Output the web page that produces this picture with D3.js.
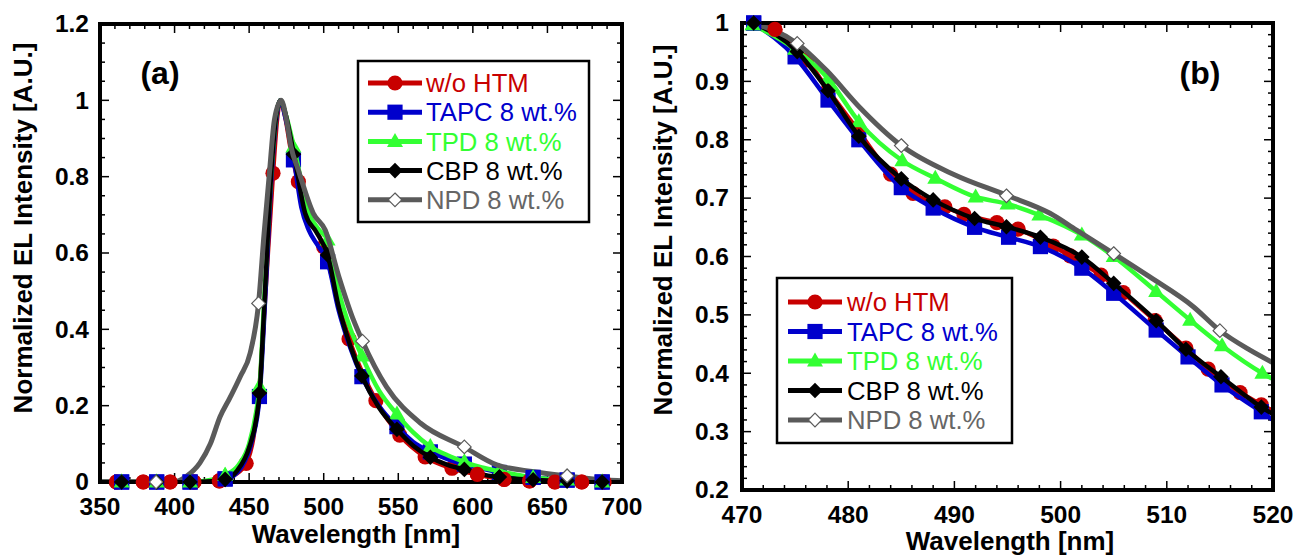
<!DOCTYPE html>
<html><head><meta charset="utf-8">
<script src="https://cdn.jsdelivr.net/npm/d3@7"></script>
<style>html,body{margin:0;padding:0;background:#fff;} svg{display:block;font-family:"Liberation Sans",Arial,Helvetica,sans-serif;}</style>
</head><body><svg id="chart" width="1295" height="555"></svg>
<script>
// ---------- series ----------
const seriesNames = ["w/o HTM", "TAPC 8 wt.%", "TPD 8 wt.%", "CBP 8 wt.%", "NPD 8 wt.%"];
const seriesColors = ["#c80000", "#0000cc", "#33ff33", "#000000", "#5a5a5a"];
const seriesTextColors = ["#c80000", "#0000cc", "#33ff33", "#000000", "#666666"];
const seriesMarkers = ["circle", "square", "triangle", "diamond", "openDiamond"];

// ---------- panel (a): full spectra ----------
const xTicksA = [350, 400, 450, 500, 550, 600, 650, 700];
const yTicksA = [0, 0.2, 0.4, 0.6, 0.8, 1, 1.2];
const yTickLabelsA = ["0", "0.2", "0.4", "0.6", "0.8", "1", "1.2"];

const redLineA = [[350,0],[361,0],[379,0],[397,0],[413,0],[430,0.004],[440,0.018],[448,0.049],[453,0.12],[457,0.25],[461,0.5],[466,0.809],[469,0.96],[471,1.0],[474,0.96],[478,0.87],[483,0.787],[490,0.70],[495,0.66],[500,0.616],[508,0.5],[517,0.375],[526,0.285],[535,0.213],[551,0.123],[568,0.066],[586,0.036],[603,0.02],[621,0.007],[638,0.003],[655,0],[673,0],[690,0]];
const redMarkA = [[361,0],[379,0],[397,0],[413,0],[430,0.003],[448,0.049],[466,0.809],[483,0.787],[500,0.616],[517,0.375],[535,0.213],[551,0.123],[568,0.066],[586,0.036],[603,0.02],[621,0.007],[638,0.003],[655,0],[673,0],[688,0]];

const blueLineA = [[350,0],[364.5,0],[388,0],[410,0],[425,0.002],[434,0.006],[445,0.04],[452,0.11],[457,0.224],[461,0.5],[465,0.8],[468.5,0.96],[471,1],[474,0.96],[480,0.844],[485,0.72],[490,0.66],[496,0.62],[502.6,0.577],[510,0.45],[518,0.35],[525.6,0.276],[537,0.2],[549,0.145],[560,0.105],[571.5,0.079],[583,0.06],[594,0.047],[606,0.035],[618,0.025],[640,0.012],[663,0.005],[687,0],[700,0]];
const blueMarkA = [[364.5,0],[388,0],[410.4,0],[433.9,0.008],[456.9,0.224],[479.7,0.844],[502.6,0.577],[525.6,0.276],[549.1,0.145],[571.5,0.079],[594.3,0.047],[617.8,0.025],[640.4,0.012],[663.2,0.005],[686.7,0]];

const greenLineA = [[350,0],[364.5,0],[388,0],[410,0],[420,0.003],[434,0.018],[443,0.045],[450,0.1],[455,0.19],[457,0.25],[460,0.47],[465,0.82],[468.5,0.97],[471,1],[474,0.97],[480,0.878],[490,0.704],[497,0.66],[502.6,0.634],[510,0.5],[518,0.4],[525.6,0.33],[537,0.24],[549,0.178],[560,0.13],[571.5,0.093],[583,0.07],[594,0.053],[606,0.038],[618,0.028],[640,0.012],[663,0.005],[687,0],[700,0]];
const greenMarkA = [[364.5,0],[388,0],[410.4,0],[433.9,0.018],[456.9,0.25],[479.7,0.878],[502.6,0.634],[525.6,0.33],[549.1,0.178],[571.5,0.093],[594.3,0.053],[617.8,0.028],[640.4,0.012],[663.2,0.005],[686.7,0]];

const blackLineA = [[350,0],[364.5,0],[388,0],[410,0],[425,0.002],[434,0.007],[442,0.03],[450,0.09],[455,0.17],[457,0.233],[460,0.45],[465,0.82],[468.5,0.97],[471,1],[474,0.97],[480,0.859],[487.6,0.704],[495,0.655],[502.6,0.595],[510,0.46],[518,0.355],[525.6,0.278],[537,0.195],[549,0.138],[560,0.095],[571.5,0.065],[583,0.045],[594,0.033],[606,0.02],[618,0.013],[640,0.006],[663,0.003],[687,0],[700,0]];
const blackMarkA = [[364.5,0],[388,0],[410.4,0],[433.9,0.007],[456.9,0.233],[479.7,0.859],[502.6,0.595],[525.6,0.278],[549.1,0.138],[571.5,0.065],[594.3,0.033],[617.8,0.013],[640.4,0.006],[663.2,0.003],[686.7,0]];

const grayLineA = [[350,0],[388,0],[399,0],[408,0.015],[417,0.05],[424,0.1],[430.5,0.171],[437,0.22],[444,0.276],[450.7,0.338],[456.3,0.468],[460,0.65],[463.6,0.81],[467,0.95],[471.5,1],[475,0.95],[478,0.88],[483,0.817],[493,0.704],[501,0.66],[510,0.54],[520,0.424],[526,0.369],[542,0.25],[565,0.154],[594,0.092],[616,0.045],[641,0.027],[663,0.016],[690,0.005],[700,0.003]];
const grayMarkA = [[387.6,0],[456.3,0.468],[526,0.369],[594.3,0.092],[663.2,0.016]];

// ---------- panel (b): zoom 470-520 nm ----------
const xTicksB = [470, 480, 490, 500, 510, 520];
const yTicksB = [0.2, 0.3, 0.4, 0.5, 0.6, 0.7, 0.8, 0.9, 1];
const yTickLabelsB = ["0.2", "0.3", "0.4", "0.5", "0.6", "0.7", "0.8", "0.9", "1"];

const redMarkB = [[473.1,0.989],[476.1,0.937],[478.1,0.885],[481.0,0.814],[484.0,0.741],[486.1,0.708],[489.1,0.685],[490.9,0.672],[494.0,0.658],[496.0,0.647],[499.3,0.618],[500.9,0.601],[503.8,0.568],[505.9,0.538],[508.9,0.49],[511.8,0.443],[513.9,0.407],[516.9,0.367],[518.9,0.346]];
const redLineB = [[471,1.0]].concat(redMarkB, [[520,0.335]]);

const blueMarkB = [[471.1,1.0],[475.0,0.942],[478.1,0.868],[481.0,0.8],[485.0,0.718],[488.0,0.683],[491.9,0.65],[495.1,0.633],[498.1,0.617],[502.0,0.58],[505.0,0.537],[509.0,0.474],[512.0,0.428],[515.2,0.38],[518.9,0.334]];
const blueLineB = blueMarkB.concat([[520,0.32]]);

const greenMarkB = [[471.0,0.997],[475.0,0.955],[478.1,0.905],[481.0,0.831],[485.1,0.764],[488.2,0.734],[492.0,0.702],[495.0,0.69],[498.0,0.671],[502.0,0.637],[505.0,0.6],[509.0,0.54],[512.2,0.491],[515.2,0.447],[519.0,0.4]];
const greenLineB = greenMarkB.concat([[520,0.39]]);

const blackMarkB = [[471.1,1.0],[475.2,0.951],[478.1,0.884],[481.0,0.806],[485.0,0.733],[488.0,0.697],[491.9,0.665],[494.9,0.651],[498.1,0.633],[502.0,0.599],[505.0,0.554],[509.0,0.49],[511.8,0.441],[515.1,0.394],[518.9,0.342]];
const blackLineB = blackMarkB.concat([[520,0.33]]);

const grayLineB = [[471,1.0],[475.2,0.965],[478,0.918],[481,0.857],[485,0.79],[490,0.74],[494.9,0.705],[499,0.674],[501.5,0.645],[505,0.605],[508.4,0.565],[512.5,0.514],[515,0.473],[517.8,0.44],[520,0.418]];
const grayMarkB = [[475.2,0.965],[485,0.79],[494.9,0.704],[505,0.605],[515,0.473]];

const panels = [
  {
    id: "a", label: "(a)",
    box: {left: 100, right: 622, top: 24, bottom: 482},
    xDomain: [350, 700], yDomain: [0, 1.2],
    xTicks: xTicksA, xMinorStep: 10, yTicks: yTicksA, yLabels: yTickLabelsA, yMinorStep: 0.05,
    lines: [redLineA, blueLineA, greenLineA, blackLineA, grayLineA],
    marks: [redMarkA, blueMarkA, greenMarkA, blackMarkA, grayMarkA],
    legend: {x: 358, y: 61, w: 231, h: 161, row0: 83, rowStep: 29.2, lineX0: 368, lineX1: 422, textX: 426},
    panelLabel: {x: 160, y: 84},
    yTitle: {x: 32, y: 228}, xTitle: {x: 356, y: 543},
    yLabelX: 89
  },
  {
    id: "b", label: "(b)",
    box: {left: 742, right: 1273, top: 23, bottom: 490},
    xDomain: [470, 520], yDomain: [0.2, 1],
    xTicks: xTicksB, xMinorStep: 2, yTicks: yTicksB, yLabels: yTickLabelsB, yMinorStep: 0.02,
    lines: [redLineB, blueLineB, greenLineB, blackLineB, grayLineB],
    marks: [redMarkB, blueMarkB, greenMarkB, blackMarkB, grayMarkB],
    legend: {x: 777, y: 278, w: 235, h: 165, row0: 302, rowStep: 29.5, lineX0: 788, lineX1: 842, textX: 847},
    panelLabel: {x: 1200, y: 84},
    yTitle: {x: 672, y: 230}, xTitle: {x: 1010, y: 550},
    yLabelX: 729
  }
];

const svg = d3.select("#chart");

function drawMarker(g, type, cx, cy, color) {
  if (type === "circle") {
    g.append("circle").attr("cx", cx).attr("cy", cy).attr("r", 7.6).attr("fill", color);
  } else if (type === "square") {
    g.append("rect").attr("x", cx - 7.6).attr("y", cy - 7.6).attr("width", 15.2).attr("height", 15.2).attr("fill", color);
  } else if (type === "triangle") {
    g.append("path").attr("d", `M${cx},${cy - 8.5}L${cx + 8},${cy + 5.5}L${cx - 8},${cy + 5.5}Z`).attr("fill", color);
  } else if (type === "diamond") {
    g.append("path").attr("d", `M${cx},${cy - 7.8}L${cx + 7.8},${cy}L${cx},${cy + 7.8}L${cx - 7.8},${cy}Z`).attr("fill", color);
  } else if (type === "openDiamond") {
    g.append("path").attr("d", `M${cx},${cy - 6.8}L${cx + 6.8},${cy}L${cx},${cy + 6.8}L${cx - 6.8},${cy}Z`)
      .attr("fill", "#ffffff").attr("stroke", color).attr("stroke-width", 1.2);
  }
}

panels.forEach(p => {
  const b = p.box;
  const x = d3.scaleLinear().domain(p.xDomain).range([b.left, b.right]);
  const y = d3.scaleLinear().domain(p.yDomain).range([b.bottom, b.top]);
  const g = svg.append("g");

  // clip for lines
  const clipId = "clip-" + p.id;
  svg.append("defs").append("clipPath").attr("id", clipId)
    .append("rect").attr("x", b.left).attr("y", b.top - 10).attr("width", b.right - b.left).attr("height", b.bottom - b.top + 10);

  // ticks (inward, all four sides)
  const tickG = g.append("g").attr("stroke", "#000").attr("stroke-width", 1.5);
  const xMinor = d3.range(p.xDomain[0], p.xDomain[1] + 1e-9, p.xMinorStep);
  xMinor.forEach(v => {
    const major = p.xTicks.some(t => Math.abs(t - v) < 1e-6);
    const len = major ? 9 : 5;
    tickG.append("line").attr("x1", x(v)).attr("x2", x(v)).attr("y1", b.bottom).attr("y2", b.bottom - len);
    tickG.append("line").attr("x1", x(v)).attr("x2", x(v)).attr("y1", b.top).attr("y2", b.top + len);
  });
  const yMinor = d3.range(p.yDomain[0], p.yDomain[1] + 1e-9, p.yMinorStep);
  yMinor.forEach(v => {
    const major = p.yTicks.some(t => Math.abs(t - v) < 1e-6);
    const len = major ? 9 : 5;
    tickG.append("line").attr("x1", b.left).attr("x2", b.left + len).attr("y1", y(v)).attr("y2", y(v));
    tickG.append("line").attr("x1", b.right).attr("x2", b.right - len).attr("y1", y(v)).attr("y2", y(v));
  });

  // tick labels
  g.append("g").selectAll("text").data(p.xTicks).join("text")
    .attr("x", d => x(d)).attr("y", b.bottom + 33).attr("text-anchor", "middle")
    .attr("font-size", 24.5).attr("font-weight", "bold").attr("fill", "#000").text(d => d);
  g.append("g").selectAll("text").data(p.yTicks).join("text")
    .attr("x", p.yLabelX).attr("y", d => y(d)).attr("dy", "0.34em").attr("text-anchor", "end")
    .attr("font-size", 24.5).attr("font-weight", "bold").attr("fill", "#000").text((d, i) => p.yLabels[i]);

  // axis titles
  g.append("text").attr("transform", `translate(${p.yTitle.x},${p.yTitle.y}) rotate(-90)`)
    .attr("text-anchor", "middle").attr("font-size", 26).attr("font-weight", "bold").text("Normalized EL Intensity [A.U.]");
  g.append("text").attr("x", p.xTitle.x).attr("y", p.xTitle.y)
    .attr("text-anchor", "middle").attr("font-size", 26).attr("font-weight", "bold").text("Wavelength [nm]");

  // panel label
  g.append("text").attr("x", p.panelLabel.x).attr("y", p.panelLabel.y).attr("text-anchor", "middle")
    .attr("font-size", 32).attr("font-weight", "bold").text(p.label);

  const line = d3.line().x(d => x(d[0])).y(d => y(d[1])).curve(d3.curveMonotoneX);

  // series: lines + markers
  const seriesG = g.append("g");
  p.lines.forEach((data, i) => {
    seriesG.append("path").attr("d", line(data)).attr("fill", "none")
      .attr("stroke", seriesColors[i]).attr("stroke-width", i === 4 ? 5 : 4.5)
      .attr("stroke-linejoin", "round").attr("clip-path", `url(#${clipId})`);
    const mg = seriesG.append("g");
    p.marks[i].forEach(d => drawMarker(mg, seriesMarkers[i], x(d[0]), y(d[1]), seriesColors[i]));
  });

  // frame
  g.append("rect").attr("x", b.left).attr("y", b.top).attr("width", b.right - b.left).attr("height", b.bottom - b.top)
    .attr("fill", "none").attr("stroke", "#000").attr("stroke-width", 4);

  // markers sitting on the frame are drawn on top of it
  const topG = g.append("g");
  p.marks.forEach((arr, i) => {
    arr.forEach(d => {
      const py = y(d[1]);
      if (Math.abs(py - b.bottom) < 9 || Math.abs(py - b.top) < 9) drawMarker(topG, seriesMarkers[i], x(d[0]), py, seriesColors[i]);
    });
  });

  // legend
  const L = p.legend;
  const lg = g.append("g");
  lg.append("rect").attr("x", L.x).attr("y", L.y).attr("width", L.w).attr("height", L.h)
    .attr("fill", "#fff").attr("stroke", "#000").attr("stroke-width", 2.5);
  seriesNames.forEach((name, i) => {
    const ry = L.row0 + i * L.rowStep;
    lg.append("line").attr("x1", L.lineX0).attr("x2", L.lineX1).attr("y1", ry).attr("y2", ry)
      .attr("stroke", seriesColors[i]).attr("stroke-width", 5);
    drawMarker(lg, seriesMarkers[i], (L.lineX0 + L.lineX1) / 2, ry, seriesColors[i]);
    lg.append("text").attr("x", L.textX).attr("y", ry).attr("dy", "0.36em")
      .attr("font-size", 25.7).attr("fill", seriesTextColors[i]).text(name);
  });
});
</script>
</body></html>
